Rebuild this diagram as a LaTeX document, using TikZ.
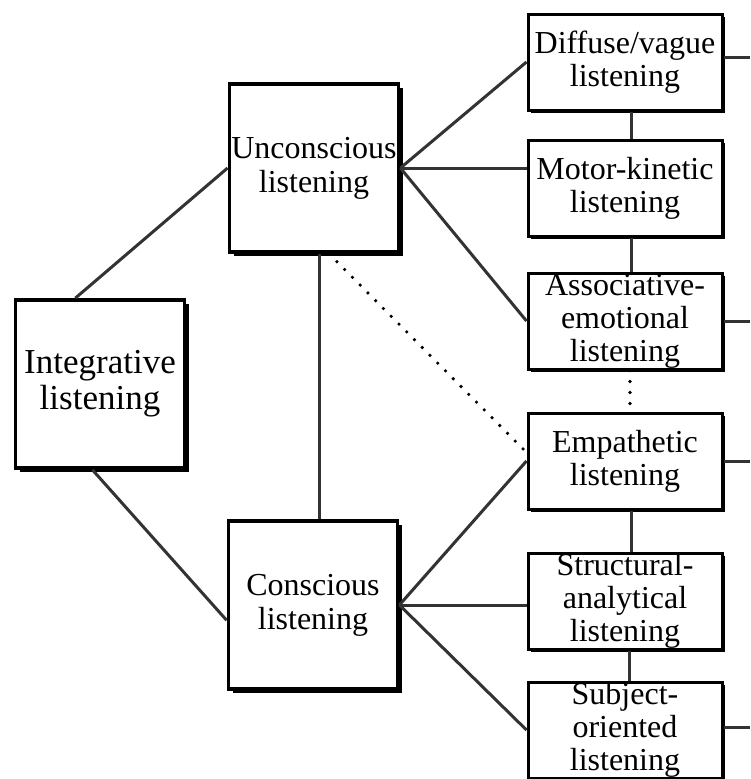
\documentclass[tikz,border=0pt]{standalone}
\usepackage{fontspec}
\setmainfont{Liberation Serif}
\usetikzlibrary{shadows}
\begin{document}
\begin{tikzpicture}[x=1pt,y=-1pt,
 bigbox/.style={draw=black,fill=white,line width=3.8pt,minimum width=169pt,minimum height=168pt,inner sep=0pt,align=center,font=\fontsize{32}{34}\selectfont,drop shadow={shadow xshift=4.5pt,shadow yshift=-3.5pt,fill=black,opacity=1}},
 smallbox/.style={draw=black,fill=white,line width=3pt,minimum width=194pt,minimum height=96pt,inner sep=0pt,align=center,font=\fontsize{32}{33}\selectfont,drop shadow={shadow xshift=3pt,shadow yshift=-2.5pt,fill=black,opacity=1}},
 link/.style={draw=black!80,line width=3pt},
 dotlink/.style={draw=black,line width=3.6pt,line cap=round,dash pattern=on 0pt off 11pt}]
 \useasboundingbox[fill=white] (0,0) rectangle (750,779);
 \node[bigbox,font=\fontsize{35}{36}\selectfont] (integ) at (100,384) {Integrative\\listening};
 \node[bigbox] (uncon) at (314,168) {Unconscious\\listening};
 \node[bigbox] (consc) at (313,605) {Conscious\\listening};
 \node[smallbox] (diffuse) at (625,62) {Diffuse/vague\\listening};
 \node[smallbox] (motor) at (625,188) {Motor-kinetic\\listening};
 \node[smallbox] (assoc) at (625,321) {Associative-\\emotional\\listening};
 \node[smallbox] (empath) at (625,461) {Empathetic\\listening};
 \node[smallbox] (struct) at (625,601) {Structural-\\analytical\\listening};
 \node[smallbox] (subject) at (625,730) {Subject-\\oriented\\listening};
 \coordinate (edge) at (750,0);
 \draw[link] (integ.106) -- (uncon.west);
 \draw[link] (integ.265) -- (consc.190);
 \draw[link] ([xshift=5pt]uncon.south) -- ([xshift=6pt]consc.north);
 \draw[dotlink] (uncon.280) -- (empath.175);
 \draw[link] (uncon.east) -- (diffuse.west);
 \draw[link] (uncon.east) -- (uncon.east -| motor.west);
 \draw[link] (uncon.east) -- (assoc.west);
 \draw[link] (consc.east) -- (empath.west);
 \draw[link] (consc.east) -- (consc.east -| struct.west);
 \draw[link] (consc.east) -- (subject.west);
 \draw[link] ([xshift=6pt]diffuse.south) -- ([xshift=6pt]motor.north);
 \draw[link] ([xshift=6pt]motor.south) -- ([xshift=6pt]assoc.north);
 \draw[dotlink] ([xshift=5pt]assoc.south) -- ([xshift=5pt]empath.north);
 \draw[link] ([xshift=6pt]empath.south) -- ([xshift=6pt]struct.north);
 \draw[link] ([xshift=4pt]struct.south) -- ([xshift=4pt]subject.north);
 \draw[link] ([yshift=5pt]diffuse.east) -- ([yshift=5pt]diffuse.east -| edge);
 \draw[link] (assoc.east) -- (assoc.east -| edge);
 \draw[link] (empath.east) -- (empath.east -| edge);
 \draw[link] ([yshift=3pt]subject.east) -- ([yshift=3pt]subject.east -| edge);
\end{tikzpicture}
\end{document}
